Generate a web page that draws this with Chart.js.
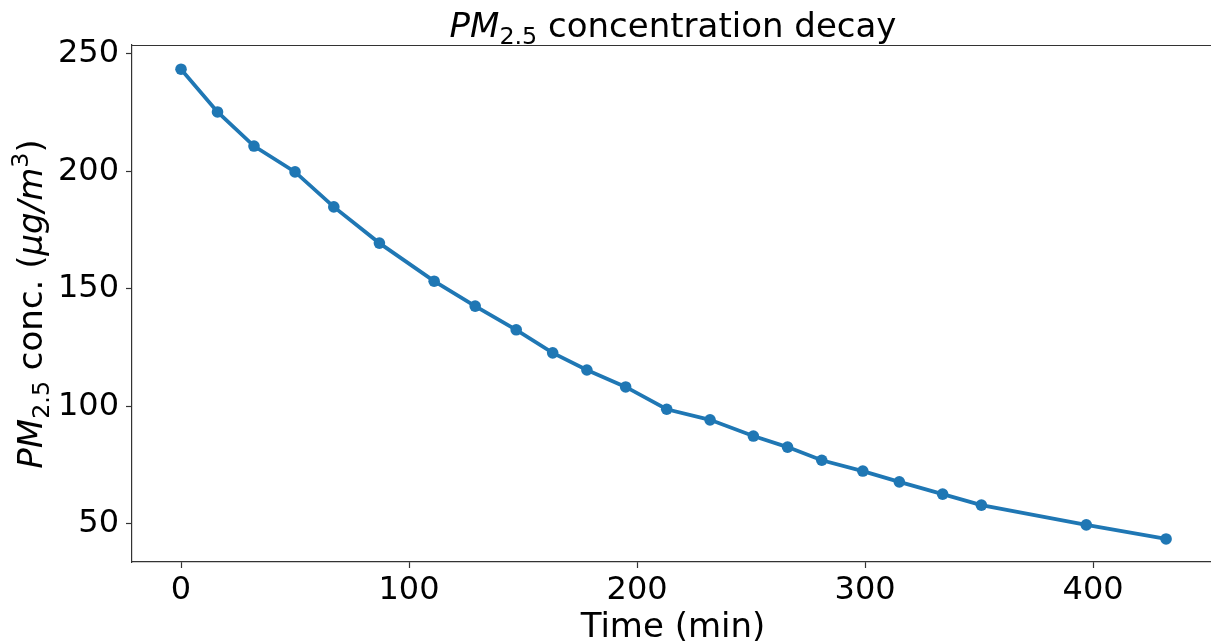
<!DOCTYPE html>
<html>
<head>
<meta charset="utf-8">
<script src="https://cdn.jsdelivr.net/npm/chart.js@4.4.0/dist/chart.umd.min.js"></script>
<style>
  html, body { margin: 0; padding: 0; background: #fff; }
  canvas { display: block; }
</style>
</head>
<body>
<canvas id="decayChart" width="1211" height="641"></canvas>
<script>
// time after start, minutes
const timeMin = [0, 16, 32, 50, 67, 87, 111, 129, 147, 163, 178, 195, 213, 232, 251, 266, 281, 299, 315, 334, 351, 397, 432];
// PM2.5 concentration, ug/m3
const pm25 = [243.5, 225.3, 210.8, 199.8, 184.9, 169.5, 153.3, 142.7, 132.6, 122.8, 115.5, 108.3, 98.8, 94.3, 87.4, 82.7, 77.1, 72.5, 67.9, 62.7, 58.0, 49.6, 43.6];
const xTicks = [0, 100, 200, 300, 400];
const yTicks = [50, 100, 150, 200, 250];

const FONT = '"DejaVu Sans", sans-serif';

// draws text made of pieces (italic / sub / sup), centred on x
function drawRich(ctx, parts, x, y, size) {
    const fontFor = p => {
        const s = p.shift ? size * 0.7 : size;
        return (p.italic ? 'italic ' : '') + s + 'px ' + FONT;
    };
    let total = 0;
    parts.forEach(p => { ctx.font = fontFor(p); total += ctx.measureText(p.text).width; });
    let cx = x - total / 2;
    parts.forEach(p => {
        ctx.font = fontFor(p);
        let dy = 0;
        if (p.shift === 'sub') dy = size * 0.22;
        if (p.shift === 'sup') dy = -size * 0.42;
        ctx.fillText(p.text, cx, y + dy);
        cx += ctx.measureText(p.text).width;
    });
}

const textPlugin = {
    id: 'mplText',
    afterDraw(chart) {
        const ctx = chart.ctx;
        const area = chart.chartArea;
        ctx.save();
        // top spine
        ctx.strokeStyle = '#333';
        ctx.lineWidth = 1.2;
        ctx.beginPath();
        ctx.moveTo(area.left, area.top + 0.5);
        ctx.lineTo(chart.width, area.top + 0.5);
        ctx.stroke();

        ctx.fillStyle = '#000';
        ctx.textBaseline = 'alphabetic';
        ctx.textAlign = 'left';
        const midX = 673;
        drawRich(ctx, [
            { text: 'PM', italic: true },
            { text: '2.5', shift: 'sub' },
            { text: ' concentration decay' }
        ], midX, 37, 34);

        drawRich(ctx, [{ text: 'Time (min)' }], midX, 637, 34);

        ctx.translate(42, 304);
        ctx.rotate(-Math.PI / 2);
        drawRich(ctx, [
            { text: 'PM', italic: true },
            { text: '2.5', shift: 'sub' },
            { text: ' conc. (' },
            { text: 'μg/m', italic: true },
            { text: '3', shift: 'sup' },
            { text: ')' }
        ], 0, 0, 34);
        ctx.restore();
    }
};

new Chart(document.getElementById('decayChart'), {
    type: 'line',
    data: {
        datasets: [{
            data: timeMin.map((t, i) => ({ x: t, y: pm25[i] })),
            borderColor: '#1f77b4',
            backgroundColor: '#1f77b4',
            borderWidth: 3.8,
            pointRadius: 5.8,
            pointBorderWidth: 0,
            tension: 0,
            clip: false
        }]
    },
    options: {
        responsive: false,
        animation: false,
        layout: { autoPadding: false, padding: { top: 45, left: 0, right: 0, bottom: 0 } },
        plugins: {
            legend: { display: false },
            tooltip: { enabled: false },
            title: { display: false }
        },
        scales: {
            x: {
                type: 'linear',
                min: -21.5,
                max: 451.7,
                afterBuildTicks: s => { s.ticks = xTicks.map(v => ({ value: v })); },
                afterFit: s => { s.height = 79; s.paddingLeft = 0; s.paddingRight = 0; },
                grid: { drawOnChartArea: false, drawTicks: true, tickLength: 6, tickColor: '#333', tickWidth: 1.2 },
                border: { display: true, color: '#333', width: 1.2 },
                ticks: { color: '#000', font: { family: FONT, size: 32 }, padding: 3, maxRotation: 0 }
            },
            y: {
                min: 33.8,
                max: 253.8,
                afterBuildTicks: s => { s.ticks = yTicks.map(v => ({ value: v })); },
                afterFit: s => { s.width = 132; s.paddingTop = 0; s.paddingBottom = 0; },
                grid: { drawOnChartArea: false, drawTicks: true, tickLength: 6, tickColor: '#333', tickWidth: 1.2 },
                border: { display: true, color: '#333', width: 1.2 },
                ticks: { color: '#000', font: { family: FONT, size: 32 }, padding: 7 }
            }
        }
    },
    plugins: [textPlugin]
});
</script>
</body>
</html>
